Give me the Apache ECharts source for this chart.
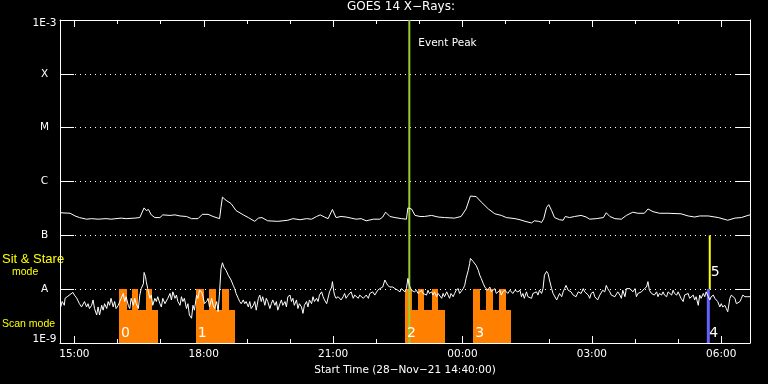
<!DOCTYPE html>
<html>
<head>
<meta charset="utf-8">
<script src="https://cdn.jsdelivr.net/npm/echarts@6/dist/echarts.min.js"></script>
<style>
html,body{margin:0;padding:0;background:#000;}
#chart{width:768px;height:384px;}
</style>
</head>
<body>
<div id="chart"></div>
<script>
// ---------- DATA (time = minutes after start 28-Nov-21 14:40:00; values = log10 flux) ----------
const startClockMinutes = 14 * 60 + 40;
const majorTickMinutes = [20, 200, 380, 560, 740, 920];
const majorTickLabels = ['15:00', '18:00', '21:00', '00:00', '03:00', '06:00'];
const hourTickMinutes = [20, 80, 140, 200, 260, 320, 380, 440, 500, 560, 620, 680, 740, 800, 860, 920];
const levelNames = ['1E-9', 'A', 'B', 'C', 'M', 'X', '1E-3'];

// GOES 14 long channel (upper curve)
const longChannel = [
[0,-6.58],[14,-6.59],[21,-6.64],[27,-6.67],[37,-6.70],[44,-6.69],[53,-6.70],[64,-6.69],[71,-6.70],[85,-6.68],
[92,-6.69],[104,-6.68],[111,-6.67],[117,-6.49],[120,-6.54],[123,-6.52],[127,-6.62],[132,-6.67],[139,-6.67],[143,-6.62],
[153,-6.63],[160,-6.62],[167,-6.64],[176,-6.65],[183,-6.69],[192,-6.69],[198,-6.61],[206,-6.61],[213,-6.65],[222,-6.69],
[224,-6.48],[226,-6.29],[231,-6.35],[238,-6.41],[245,-6.54],[255,-6.62],[262,-6.67],[271,-6.74],[276,-6.68],[281,-6.67],
[289,-6.73],[303,-6.74],[317,-6.72],[324,-6.69],[334,-6.71],[343,-6.69],[350,-6.70],[357,-6.65],[362,-6.62],[368,-6.66],
[373,-6.69],[379,-6.52],[384,-6.67],[391,-6.65],[398,-6.66],[405,-6.68],[412,-6.70],[419,-6.69],[426,-6.73],[436,-6.70],
[445,-6.70],[449,-6.66],[453,-6.57],[459,-6.65],[466,-6.67],[475,-6.69],[482,-6.70],[484,-6.49],[489,-6.51],[494,-6.63],
[501,-6.65],[507,-6.65],[517,-6.63],[526,-6.66],[535,-6.67],[549,-6.68],[558,-6.65],[565,-6.51],[571,-6.27],[579,-6.28],
[586,-6.38],[596,-6.51],[605,-6.60],[614,-6.63],[621,-6.67],[633,-6.69],[640,-6.71],[647,-6.74],[656,-6.77],[660,-6.73],
[666,-6.74],[670,-6.76],[673,-6.69],[677,-6.48],[680,-6.43],[684,-6.54],[688,-6.67],[695,-6.71],[700,-6.72],[703,-6.65],
[709,-6.67],[716,-6.65],[725,-6.63],[732,-6.66],[737,-6.70],[746,-6.69],[756,-6.67],[760,-6.58],[765,-6.65],[772,-6.69],
[781,-6.70],[788,-6.63],[797,-6.57],[804,-6.59],[813,-6.59],[818,-6.51],[825,-6.56],[834,-6.59],[846,-6.59],[864,-6.60],
[874,-6.64],[883,-6.66],[890,-6.64],[902,-6.64],[916,-6.67],[929,-6.72],[939,-6.68],[948,-6.67],[957,-6.63],[960,-6.62]
];

// GOES 14 short channel (lower curve)
const shortChannel = [
[1,-8.33],[3,-8.23],[6,-8.30],[7,-8.17],[10,-8.14],[14,-8.10],[16,-8.12],[18,-8.06],[20,-8.11],[23,-8.16],
[25,-8.17],[27,-8.27],[30,-8.33],[32,-8.30],[34,-8.23],[37,-8.33],[39,-8.27],[41,-8.36],[44,-8.30],[46,-8.20],
[48,-8.36],[51,-8.48],[53,-8.33],[55,-8.48],[58,-8.30],[60,-8.39],[62,-8.27],[65,-8.36],[67,-8.23],[69,-8.30],
[71,-8.17],[74,-8.33],[76,-8.23],[78,-8.36],[81,-8.30],[83,-8.27],[85,-8.17],[88,-8.08],[90,-8.23],[92,-8.14],
[95,-8.30],[97,-8.36],[99,-8.17],[102,-8.30],[104,-8.17],[106,-8.27],[109,-8.36],[111,-8.11],[113,-7.99],[116,-7.90],
[117,-7.69],[119,-7.77],[120,-7.86],[122,-7.99],[125,-8.17],[127,-8.11],[129,-8.30],[132,-8.17],[134,-8.23],[136,-8.14],
[139,-8.27],[141,-8.33],[143,-8.17],[146,-8.27],[148,-8.30],[150,-8.17],[153,-8.08],[155,-8.20],[157,-8.05],[160,-8.17],
[162,-8.11],[164,-8.23],[167,-8.30],[169,-8.14],[171,-8.23],[173,-8.17],[176,-8.36],[178,-8.27],[180,-8.48],[183,-8.54],
[185,-8.30],[187,-8.39],[190,-8.11],[192,-8.17],[194,-8.02],[197,-8.05],[199,-8.14],[201,-8.27],[204,-8.23],[206,-8.17],
[208,-8.33],[211,-8.17],[213,-8.30],[215,-8.36],[218,-8.23],[220,-8.42],[222,-8.05],[224,-7.62],[226,-7.51],[228,-7.59],
[231,-7.65],[234,-7.74],[238,-7.83],[241,-7.93],[243,-7.99],[245,-8.08],[248,-8.17],[250,-8.23],[252,-8.27],[255,-8.20],
[257,-8.27],[259,-8.23],[262,-8.33],[264,-8.23],[266,-8.36],[269,-8.30],[271,-8.23],[273,-8.39],[276,-8.17],[278,-8.11],
[280,-8.23],[282,-8.14],[285,-8.30],[287,-8.17],[289,-8.23],[292,-8.36],[294,-8.27],[296,-8.20],[299,-8.30],[301,-8.23],
[303,-8.39],[306,-8.27],[308,-8.20],[310,-8.30],[313,-8.23],[315,-8.33],[317,-8.14],[320,-8.11],
[322,-8.23],[324,-8.17],[326,-8.30],[329,-8.20],[331,-8.36],[333,-8.27],[336,-8.33],[338,-8.45],[340,-8.30],[343,-8.23],
[345,-8.33],[347,-8.20],[350,-8.27],[352,-8.14],[354,-8.23],[357,-8.17],[359,-8.23],[361,-8.11],[364,-8.05],[366,-8.14],
[368,-8.20],[371,-8.27],[373,-8.30],[375,-8.05],[378,-7.96],[379,-7.86],[381,-8.05],[382,-8.11],[384,-8.17],[387,-8.14],
[389,-8.11],[391,-8.20],[394,-8.14],[396,-8.08],[398,-8.17],[401,-8.11],[403,-8.14],[405,-8.05],[408,-8.17],[410,-8.11],
[412,-8.14],[415,-8.17],[417,-8.11],[419,-8.14],[422,-8.17],[424,-8.14],[426,-8.11],[429,-8.17],[431,-8.08],[433,-8.11],
[435,-8.05],[438,-8.11],[440,-8.08],[442,-8.02],[445,-7.99],[447,-7.99],[449,-7.96],[452,-7.83],[454,-7.86],[456,-7.93],
[459,-7.96],[461,-7.99],[463,-7.96],[466,-7.99],[468,-7.96],[470,-8.02],[473,-8.05],[475,-7.99],[477,-8.02],[480,-8.05],
[482,-7.99],[484,-7.80],[486,-7.93],[489,-8.02],[491,-7.99],[493,-8.05],[496,-8.02],[498,-8.08],[500,-8.05],[503,-8.02],
[505,-8.08],[507,-8.05],[510,-8.11],[512,-8.02],[514,-8.08],[517,-8.05],[519,-8.11],[521,-8.05],[524,-8.14],[526,-8.08],
[528,-8.11],[531,-8.17],[533,-8.08],[535,-8.14],[538,-8.05],[540,-8.11],[542,-8.17],[544,-8.08],[547,-8.14],[549,-8.08],
[551,-8.02],[554,-7.99],[556,-8.08],[558,-8.11],[561,-7.99],[563,-7.93],[565,-7.80],[568,-7.65],[570,-7.52],[571,-7.43],
[575,-7.49],[577,-7.52],[579,-7.56],[582,-7.65],[584,-7.74],[586,-7.80],[589,-7.90],[591,-7.96],[593,-7.99],[595,-8.02],
[598,-7.96],[600,-8.05],[602,-8.02],[605,-7.99],[607,-8.08],[609,-8.05],[612,-8.02],[614,-8.11],[616,-8.05],[619,-8.02],
[621,-7.99],[623,-8.08],[626,-8.02],[628,-7.99],[630,-8.08],[633,-8.02],[635,-7.99],[637,-8.05],[640,-8.02],
[642,-8.14],[644,-8.08],[646,-8.17],[649,-8.05],[651,-8.14],[653,-8.11],[656,-8.17],[658,-8.08],[660,-8.11],[663,-8.05],
[665,-8.11],[667,-8.02],[670,-8.08],[672,-7.99],[674,-7.74],[677,-7.67],[679,-7.71],[681,-7.83],[684,-7.99],[686,-8.08],
[688,-8.11],[691,-8.20],[693,-8.14],[695,-8.08],[698,-8.14],[700,-8.05],[702,-7.99],[704,-7.93],[707,-8.02],[709,-7.99],
[711,-8.05],[714,-8.11],[716,-8.08],[718,-8.14],[721,-8.05],[723,-8.02],[725,-8.08],[728,-7.99],[730,-8.05],[732,-8.02],
[735,-8.11],[737,-8.17],[739,-8.08],[742,-8.05],[744,-8.14],[746,-8.11],[748,-8.20],[751,-8.11],[753,-8.08],[755,-8.02],
[758,-8.05],[760,-7.93],[762,-7.99],[765,-8.05],[767,-8.11],[769,-8.08],[772,-8.14],[774,-8.17],[776,-8.05],[779,-8.11],
[781,-8.17],[783,-8.02],[786,-8.14],[788,-7.99],[790,-7.96],[793,-7.99],[795,-8.02],[797,-8.05],[800,-7.99],[802,-8.14],
[804,-8.08],[806,-8.11],[809,-8.05],[811,-8.02],[813,-7.99],[816,-7.96],[818,-7.86],[820,-8.02],[823,-8.08],[825,-8.05],
[827,-8.11],[830,-8.05],[832,-8.14],[834,-8.08],[837,-8.11],[839,-8.05],[841,-8.11],[844,-8.14],[846,-8.05],[848,-8.08],
[851,-8.11],[853,-8.02],[855,-8.08],[858,-8.11],[860,-8.05],[862,-8.08],[864,-8.17],[867,-8.23],[869,-8.11],[871,-8.14],
[874,-8.08],[876,-8.17],[878,-8.14],[881,-8.11],[883,-8.20],[885,-8.14],[888,-8.30],[890,-8.11],[892,-8.17],[895,-8.08],
[897,-8.14],[899,-8.05],[902,-8.14],[904,-8.20],[906,-8.14],[909,-8.11],[911,-8.17],[913,-8.14],[915,-8.23],[918,-8.33],
[920,-8.27],[922,-8.33],[925,-8.30],[927,-8.36],[929,-8.42],[932,-8.17],[934,-8.11],[936,-8.08],[939,-8.17],[941,-8.27],
[943,-8.30],[946,-8.23],[948,-8.17],[950,-8.11],[953,-8.14],[955,-8.11],[957,-8.14],[960,-8.14]
];

// Scan-mode observation blocks: segment edges (minutes) and segment heights (log10)
const scanNames = ['0', '1', '2', '3'];
const scanEdges = [
  [82, 93, 100, 109, 119, 128, 137],
  [189, 200, 207, 217, 225, 235, 244],
  [480, 490, 498, 507, 517, 526, 535],
  [575, 584, 593, 602, 611, 620, 628]
];
const scanLevels = [-8, -8.39, -8, -8.39, -8, -8.39];

// Event peak time (minutes)
const eventPeakTime = 486;

// Single observations: id, time, mode band [low, high]
const obsIds = ['4', '5'];
const obsTimes = [902, 904];
const obsBands = [[-9, -8], [-8, -7]];

// ---------- CHART ----------
const FONT = 'DejaVu Sans';
const chart = echarts.init(document.getElementById('chart'), null, {renderer: 'canvas'});

function clockLabel(v) {
  const i = majorTickMinutes.indexOf(v);
  return i >= 0 ? majorTickLabels[i] : '';
}

const xBase = {type: 'value', min: 0, max: 960, splitLine: {show: false}, axisLabel: {show: false}};
const obsStyle = {
  '4': {stroke: '#6262ff', lineWidth: 3, dy: -10},
  '5': {stroke: '#ffff00', lineWidth: 2, dy: -16.5}
};

const option = {
  backgroundColor: '#000',
  animation: false,
  title: {
    text: 'GOES 14 X\u2212Rays:',
    left: 347, top: 1, padding: 0,
    textStyle: {color: '#fff', fontFamily: FONT, fontSize: 12, fontWeight: 'normal'}
  },
  grid: {left: 60, right: 18, top: 20, bottom: 41, containLabel: false, outerBoundsMode: 'none'},
  xAxis: [
    Object.assign({}, xBase, {
      position: 'bottom',
      axisLine: {show: true, onZero: false, lineStyle: {color: '#fff', width: 1}},
      axisTick: {show: true, inside: true, length: 7, customValues: majorTickMinutes, lineStyle: {color: '#fff'}},
      axisLabel: {show: true, customValues: majorTickMinutes, formatter: clockLabel, color: '#fff',
                  fontFamily: FONT, fontSize: 10.5, margin: 6},
      name: 'Start Time (28\u2212Nov\u221221 14:40:00)',
      nameLocation: 'middle', nameGap: 19,
      nameTextStyle: {color: '#fff', fontFamily: FONT, fontSize: 10.5}
    }),
    Object.assign({}, xBase, {
      position: 'bottom',
      axisLine: {show: false, onZero: false},
      axisTick: {show: true, inside: true, length: 4, customValues: hourTickMinutes, lineStyle: {color: '#fff'}}
    }),
    Object.assign({}, xBase, {
      position: 'top',
      axisLine: {show: true, onZero: false, lineStyle: {color: '#fff', width: 1}},
      axisTick: {show: true, inside: true, length: 7, customValues: majorTickMinutes, lineStyle: {color: '#fff'}}
    }),
    Object.assign({}, xBase, {
      position: 'top',
      axisLine: {show: false, onZero: false},
      axisTick: {show: true, inside: true, length: 4, customValues: hourTickMinutes, lineStyle: {color: '#fff'}}
    })
  ],
  yAxis: [
    {
      type: 'value', min: -9, max: -3, interval: 1, position: 'left',
      axisLine: {show: true, onZero: false, lineStyle: {color: '#fff', width: 1}},
      axisTick: {show: true, inside: true, length: 14, lineStyle: {color: '#fff'}},
      axisLabel: {
        color: '#fff', fontFamily: FONT, fontSize: 10.5, align: 'center', margin: 15.5,
        formatter: function (v) {
          const i = Math.round(v + 9);
          if (i === 0) return '{lo|' + levelNames[i] + '}';
          if (i === 6) return '{hi|' + levelNames[i] + '}';
          return levelNames[i];
        },
        rich: {
          lo: {color: '#fff', fontFamily: FONT, fontSize: 10.5, padding: [0, 0, 7, 0]},
          hi: {color: '#fff', fontFamily: FONT, fontSize: 10.5, padding: [7, 0, 0, 0]}
        }
      },
      splitLine: {show: true, lineStyle: {color: '#fff', width: 1, type: [1, 4]}}
    },
    {
      type: 'value', min: -9, max: -3, interval: 1, position: 'right',
      axisLine: {show: true, onZero: false, lineStyle: {color: '#fff', width: 1}},
      axisTick: {show: true, inside: true, length: 14, lineStyle: {color: '#fff'}},
      axisLabel: {show: false},
      splitLine: {show: false}
    }
  ],
  graphic: [
    {type: 'text', x: 2, y: 259, style: {text: 'Sit & Stare', fill: '#ffff00', font: '13px "Liberation Sans"', verticalAlign: 'middle'}},
    {type: 'text', x: 12, y: 272, style: {text: 'mode', fill: '#ffff00', font: '10.5px "Liberation Sans"', verticalAlign: 'middle'}},
    {type: 'text', x: 2, y: 324, style: {text: 'Scan mode', fill: '#ffff00', font: '10.5px "Liberation Sans"', verticalAlign: 'middle'}}
  ],
  series: [
    {
      name: 'scan blocks', type: 'custom', xAxisIndex: 0, yAxisIndex: 0, silent: true,
      data: scanEdges.map(function (e, i) { return [e[0], e[e.length - 1], i]; }),
      renderItem: function (params, api) {
        const idx = api.value(2);
        const edges = scanEdges[idx];
        const children = [];
        for (let k = 0; k < edges.length - 1; k++) {
          const p0 = api.coord([edges[k], scanLevels[k]]);
          const p1 = api.coord([edges[k + 1], -9]);
          children.push({type: 'rect', shape: {x: Math.round(p0[0]), y: Math.round(p0[1]),
              width: Math.round(p1[0]) - Math.round(p0[0]), height: Math.round(p1[1]) - Math.round(p0[1])},
              style: {fill: '#ff8000'}});
        }
        const base = api.coord([edges[0], -9]);
        children.push({type: 'text', x: base[0] + 2, y: base[1] - 10, z2: 10,
          style: {text: scanNames[idx], fill: '#ffffff', font: '14px "DejaVu Sans"', verticalAlign: 'middle', align: 'left'}});
        return {type: 'group', children: children};
      }
    },
    {
      name: 'observations', type: 'custom', xAxisIndex: 0, yAxisIndex: 0, silent: true,
      data: obsTimes.map(function (t, i) { return [t, obsBands[i][0], obsBands[i][1], i]; }),
      renderItem: function (params, api) {
        const i = api.value(3);
        const st = obsStyle[obsIds[i]];
        const lo = api.coord([api.value(0), api.value(1)]);
        const hi = api.coord([api.value(0), api.value(2)]);
        return {type: 'group', children: [
          {type: 'line', shape: {x1: lo[0], y1: lo[1], x2: hi[0], y2: hi[1]}, style: {stroke: st.stroke, lineWidth: st.lineWidth}},
          {type: 'text', x: lo[0] + 1, y: lo[1] + st.dy,
           style: {text: obsIds[i], fill: '#ffffff', font: '14px "DejaVu Sans"', verticalAlign: 'middle', align: 'left'}}
        ]};
      }
    },
    {
      name: 'long', type: 'line', xAxisIndex: 0, yAxisIndex: 0, data: longChannel,
      showSymbol: false, symbol: 'none', lineStyle: {color: '#fff', width: 1}, silent: true
    },
    {
      name: 'short', type: 'line', xAxisIndex: 0, yAxisIndex: 0, data: shortChannel,
      showSymbol: false, symbol: 'none', lineStyle: {color: '#fff', width: 1}, silent: true
    },
    {
      name: 'event peak', type: 'custom', xAxisIndex: 0, yAxisIndex: 0, silent: true,
      data: [[eventPeakTime]],
      renderItem: function (params, api) {
        const top = api.coord([api.value(0), -3]);
        const bot = api.coord([api.value(0), -9]);
        return {type: 'group', children: [
          {type: 'line', shape: {x1: top[0], y1: top[1], x2: bot[0], y2: bot[1]}, style: {stroke: '#9acd32', lineWidth: 2}},
          {type: 'text', x: top[0] + 9, y: top[1] + 23,
           style: {text: 'Event Peak', fill: '#ffffff', font: '10.5px "DejaVu Sans"', verticalAlign: 'middle', align: 'left'}}
        ]};
      }
    }
  ]
};
chart.setOption(option);
</script>
</body>
</html>
